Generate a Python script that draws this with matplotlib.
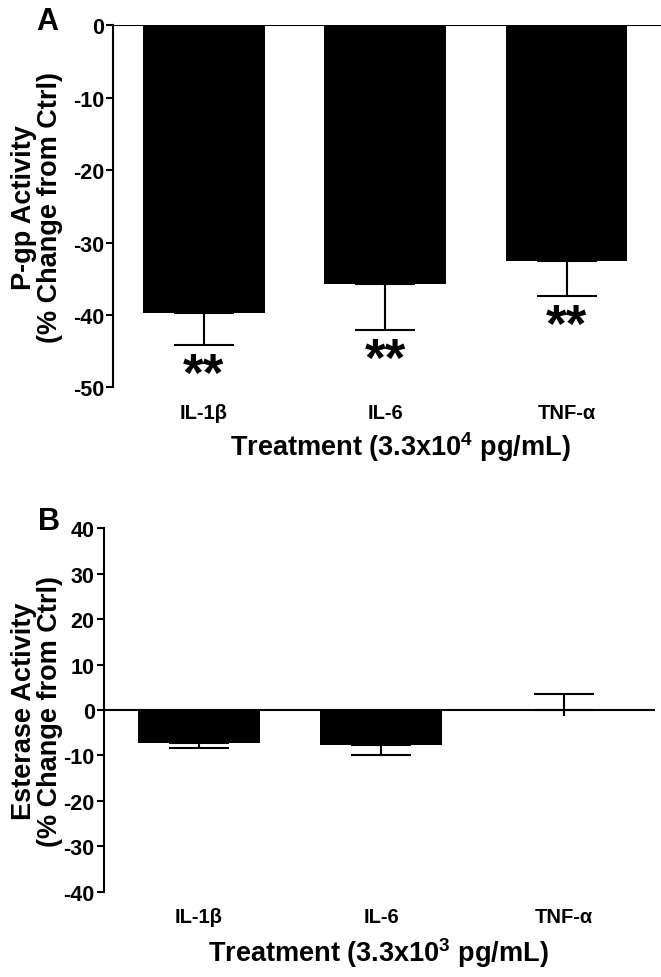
import matplotlib
matplotlib.use('Agg')
import matplotlib.pyplot as plt
import numpy as np

plt.rcParams['font.family'] = ['Liberation Sans', 'DejaVu Sans']
plt.rcParams['font.weight'] = 'bold'
plt.rcParams['mathtext.fontset'] = 'custom'
plt.rcParams['mathtext.rm'] = 'Liberation Sans:bold'
plt.rcParams['mathtext.default'] = 'rm'
plt.rcParams['axes.unicode_minus'] = False

treatments = ['IL-1β', 'IL-6', 'TNF-α']

# panel A: P-gp activity
pgp_mean = [-39.7, -35.8, -32.5]
pgp_sem = [4.5, 6.3, 4.9]
pgp_sig = ['**', '**', '**']

# panel B: esterase activity
est_mean = [-7.3, -7.7, 0.1]
est_sem = [1.1, 2.1, 3.5]
est_sem_low = [0, 0, 1.5]   # TNF-a whisker also runs below zero

x = np.arange(len(treatments))
w = 0.67
lw = 1.5
cap = 21.5

fig = plt.figure(figsize=(6.61, 9.78), dpi=100)
axA = fig.add_axes([0.171, 0.603, 0.829, 0.370])
axB = fig.add_axes([0.157, 0.087, 0.834, 0.372])


def style(ax, ylim, yt, xlim):
    ax.set_xlim(*xlim)
    ax.set_ylim(*ylim)
    ax.set_yticks(yt)
    ax.set_xticks(x)
    ax.set_xticklabels(treatments, fontsize=14.5, fontweight='bold')
    for s in ['top', 'right', 'bottom']:
        ax.spines[s].set_visible(False)
    ax.spines['left'].set_linewidth(lw)
    ax.tick_params(axis='x', length=0, pad=11)
    ax.tick_params(axis='y', length=5, width=lw, labelsize=15.5, pad=1.5)
    for t in ax.get_yticklabels():
        t.set_fontweight('bold')
    ax.axhline(0, color='black', lw=lw, zorder=5)


# ---- A ----
axA.bar(x, pgp_mean, width=w, color='black', zorder=2)
axA.errorbar(x, pgp_mean, yerr=[pgp_sem, [0] * 3], fmt='none', ecolor='black',
             elinewidth=lw, capsize=cap, capthick=lw, zorder=3)
for i in range(len(x)):
    axA.annotate(pgp_sig[i], (x[i], pgp_mean[i] - pgp_sem[i]), xytext=(0, -4),
                 textcoords='offset points', ha='center', va='top', fontsize=38)
style(axA, (-50, 0), np.arange(-50, 1, 10), (-0.5, 2.52))
axA.set_ylabel('P-gp Activity\n(% Change from Ctrl)', fontsize=19.5, fontweight='bold',
               linespacing=1.0, ha='center', va='center')
axA.yaxis.set_label_coords(-0.139, 0.5)
axA.set_xlabel('Treatment (3.3x10$^{4}$ pg/mL)', fontsize=19.5, fontweight='bold', va='center')
axA.xaxis.set_label_coords(0.524, -0.163)
fig.text(0.071, 0.978, 'A', fontsize=22, fontweight='bold', ha='center', va='center')

# ---- B ----
axB.bar(x, est_mean, width=w, color='black', zorder=2)
up = [e if m >= 0 else 0 for m, e in zip(est_mean, est_sem)]
dn = [e if m < 0 else 0 for m, e in zip(est_mean, est_sem)]
axB.errorbar(x, est_mean, yerr=[dn, up], fmt='none', ecolor='black',
             elinewidth=lw, capsize=cap, capthick=lw, zorder=3)
axB.errorbar(x, est_mean, yerr=[est_sem_low, [0] * 3], fmt='none', ecolor='black',
             elinewidth=lw, capsize=0, zorder=3)
style(axB, (-40, 40), np.arange(-40, 41, 10), (-0.52, 2.5))
axB.set_ylabel('Esterase Activity\n(% Change from Ctrl)', fontsize=19.5, fontweight='bold',
               linespacing=1.0, ha='center', va='center')
axB.yaxis.set_label_coords(-0.122, 0.5)
axB.set_xlabel('Treatment (3.3x10$^{3}$ pg/mL)', fontsize=19.5, fontweight='bold', va='center')
axB.xaxis.set_label_coords(0.498, -0.166)
fig.text(0.074, 0.466, 'B', fontsize=22, fontweight='bold', ha='center', va='center')

fig.savefig('out.png', dpi=100)
